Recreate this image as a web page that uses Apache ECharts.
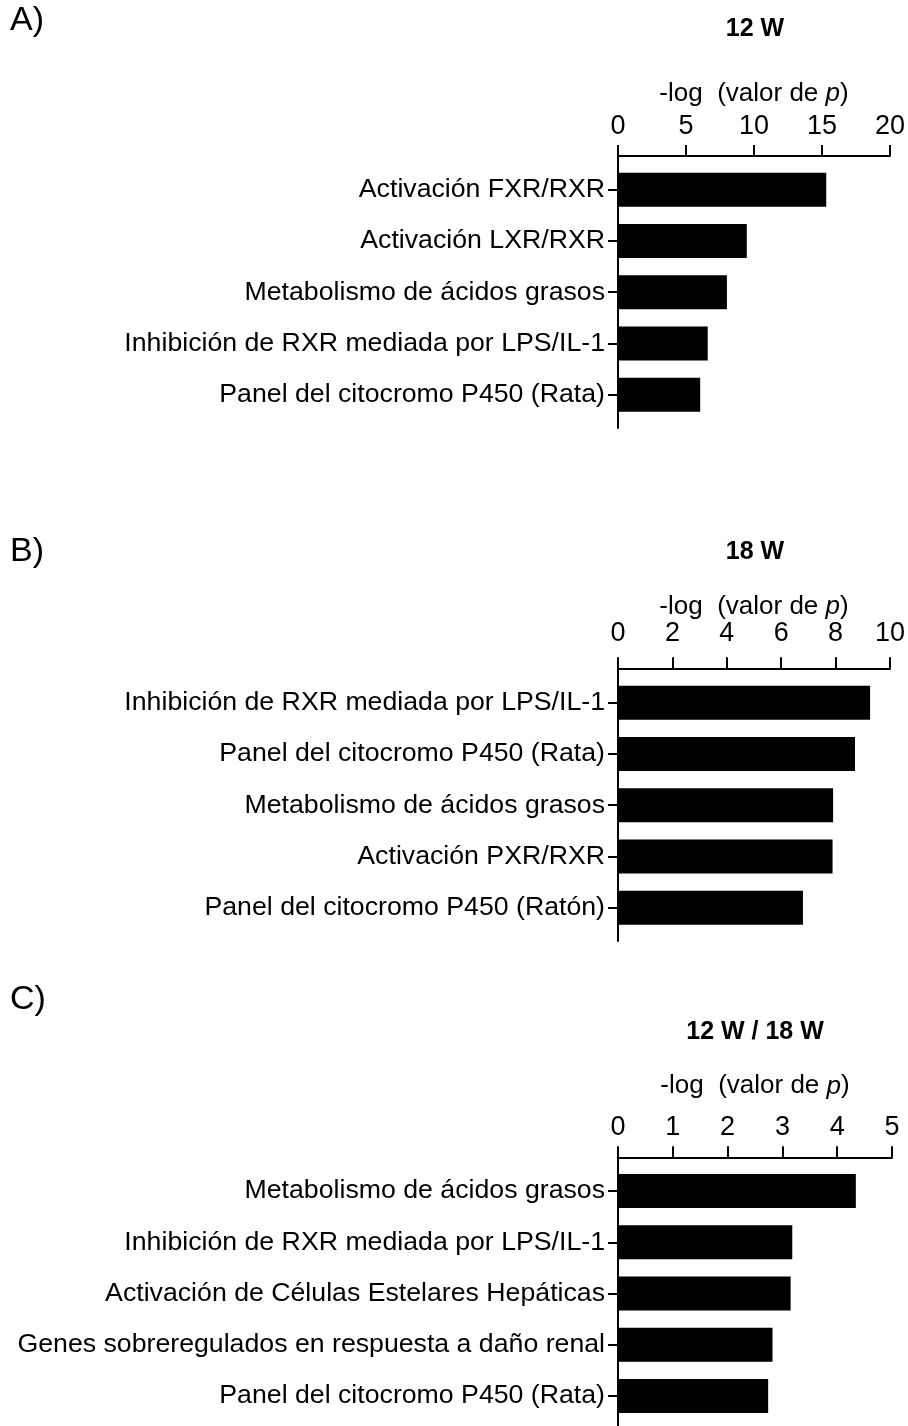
<!DOCTYPE html>
<html>
<head>
<meta charset="utf-8">
<script src="https://cdn.jsdelivr.net/npm/echarts@6/dist/echarts.min.js"></script>
<style>
html,body{margin:0;padding:0;background:#fff;}
#chart{width:908px;height:1426px;}
</style>
</head>
<body>
<div id="chart"></div>
<script>
// ---- data ----
var panelLetters = ['A)', 'B)', 'C)'];
var panelTitles = ['12 W', '18 W', '12 W / 18 W'];
var axisName = '-log  (valor de {it|p})';

var catsA = ['Activación FXR/RXR', 'Activación LXR/RXR', 'Metabolismo de ácidos grasos', 'Inhibición de RXR mediada por LPS/IL-1', 'Panel del citocromo P450 (Rata)'];
var valsA = [15.2, 9.4, 7.95, 6.55, 6.0];
var ticksA = {min: 0, max: 20, interval: 5};

var catsB = ['Inhibición de RXR mediada por LPS/IL-1', 'Panel del citocromo P450 (Rata)', 'Metabolismo de ácidos grasos', 'Activación PXR/RXR', 'Panel del citocromo P450 (Ratón)'];
var valsB = [9.2, 8.65, 7.85, 7.83, 6.75];
var ticksB = {min: 0, max: 10, interval: 2};

var catsC = ['Metabolismo de ácidos grasos', 'Inhibición de RXR mediada por LPS/IL-1', 'Activación de Células Estelares Hepáticas', 'Genes sobreregulados en respuesta a daño renal', 'Panel del citocromo P450 (Rata)'];
var valsC = [4.34, 3.18, 3.15, 2.82, 2.74];
var ticksC = {min: 0, max: 5, interval: 1};

// ---- layout (pixels) ----
var FONT = '"Liberation Sans", Arial, Helvetica, sans-serif';
var gridLeft = 618, gridWidth = 274;
var layout = [
  {axisY: 156,    bandTop: 164.1,  bandH: 256.2, outerBottom: 428,  labelMargin: 16, nameGap: 49, letterY: 21,   titleY: 29},
  {axisY: 668.3,  bandTop: 677.1,  bandH: 256.2, outerBottom: 941,  labelMargin: 21, nameGap: 43, letterY: 552,  titleY: 552},
  {axisY: 1157.3, bandTop: 1165.4, bandH: 256.2, outerBottom: 1440, labelMargin: 16, nameGap: 58, letterY: 1000, titleY: 1032}
];
var panels = [
  {cats: catsA, vals: valsA, ticks: ticksA},
  {cats: catsB, vals: valsB, ticks: ticksB},
  {cats: catsC, vals: valsC, ticks: ticksC}
];

var grids = [], xAxes = [], yAxes = [], series = [], graphics = [];
panels.forEach(function (p, i) {
  var L = layout[i];
  // outer grid: axis lines + top value axis
  grids.push({left: gridLeft, width: gridWidth, top: L.axisY, height: L.outerBottom - L.axisY, containLabel: false});
  // inner grid: bars + category labels
  grids.push({left: gridLeft, width: gridWidth, top: L.bandTop, height: L.bandH, containLabel: false});
  var go = 2 * i, gi = 2 * i + 1;
  xAxes.push({
    gridIndex: go, type: 'value', position: 'top',
    min: p.ticks.min, max: p.ticks.max, interval: p.ticks.interval,
    name: axisName, nameLocation: 'middle', nameGap: L.nameGap,
    nameTextStyle: {fontSize: 26, color: '#000', fontFamily: FONT,
      rich: {it: {fontSize: 26, color: '#000', fontFamily: FONT, fontStyle: 'italic'}}},
    axisLine: {show: true, onZero: false, lineStyle: {color: '#000', width: 2}},
    axisTick: {show: true, inside: false, length: 11, lineStyle: {color: '#000', width: 2}},
    axisLabel: {show: true, margin: L.labelMargin, fontSize: 27, color: '#000', fontFamily: FONT},
    splitLine: {show: false}
  });
  xAxes.push({
    gridIndex: gi, type: 'value', show: false,
    min: p.ticks.min, max: p.ticks.max, interval: p.ticks.interval
  });
  yAxes.push({
    gridIndex: go, type: 'value', min: 0, max: 1,
    axisLine: {show: true, lineStyle: {color: '#000', width: 2}},
    axisTick: {show: false}, axisLabel: {show: false}, splitLine: {show: false}
  });
  yAxes.push({
    gridIndex: gi, type: 'category', inverse: true, data: p.cats,
    axisLine: {show: false},
    axisTick: {show: true, alignWithLabel: true, length: 10, lineStyle: {color: '#000', width: 2}},
    axisLabel: {show: true, margin: 13, fontSize: 26.7, color: '#000', fontFamily: FONT},
    splitLine: {show: false}
  });
  series.push({
    type: 'bar', xAxisIndex: 2 * i + 1, yAxisIndex: gi,
    data: p.vals, barWidth: 34, itemStyle: {color: '#000'},
    silent: true, animation: false
  });
  graphics.push({
    type: 'text', x: 10, y: L.letterY,
    style: {text: panelLetters[i], fontSize: 34, fontFamily: FONT, fill: '#000',
      textAlign: 'left', textVerticalAlign: 'middle', verticalAlign: 'middle'}
  });
  graphics.push({
    type: 'text', x: 755, y: L.titleY,
    style: {text: panelTitles[i], fontSize: 25, fontWeight: 'bold', fontFamily: FONT, fill: '#000',
      textAlign: 'center', textVerticalAlign: 'middle', verticalAlign: 'middle'}
  });
});

var chart = echarts.init(document.getElementById('chart'), null, {renderer: 'canvas'});
chart.setOption({
  backgroundColor: '#fff',
  animation: false,
  grid: grids,
  xAxis: xAxes,
  yAxis: yAxes,
  series: series,
  graphic: graphics
});
</script>
</body>
</html>
